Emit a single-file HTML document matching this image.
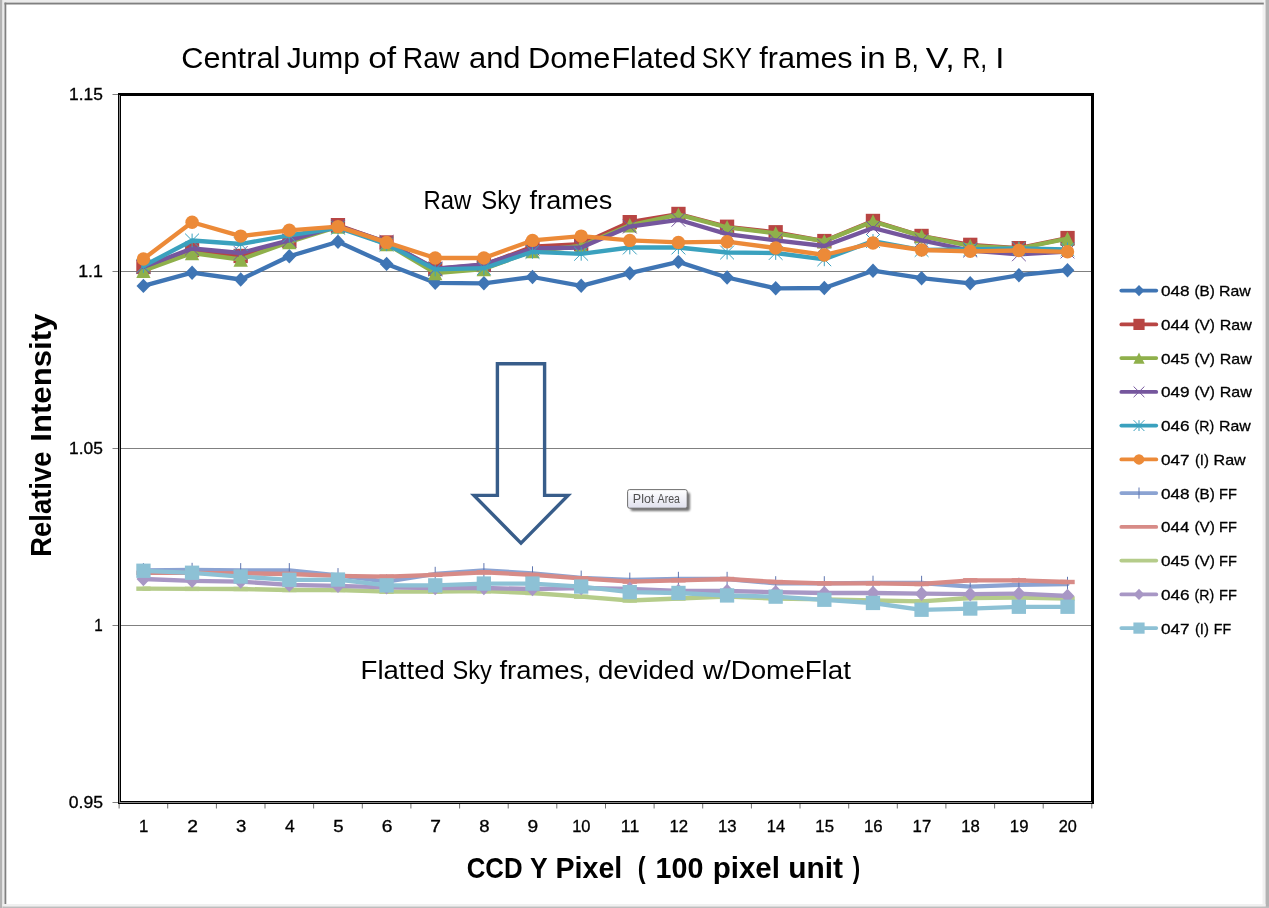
<!DOCTYPE html>
<html><head><meta charset="utf-8"><title>Central Jump of Raw and DomeFlated SKY frames</title>
<style>
html,body{margin:0;padding:0;background:#fff;}
body{width:1269px;height:908px;overflow:hidden;position:relative;font-family:"Liberation Sans",sans-serif;}
svg{position:absolute;left:0;top:0;display:block;}
text{font-family:"Liberation Sans",sans-serif;fill:#000;}
</style></head><body>
<svg width="1269" height="908" viewBox="0 0 1269 908">
<defs>
<linearGradient id="tip" x1="0" y1="0" x2="0" y2="1"><stop offset="0" stop-color="#ffffff"/><stop offset="1" stop-color="#e0e1ee"/></linearGradient>
<filter id="sh" x="-10%" y="-20%" width="130%" height="160%"><feGaussianBlur stdDeviation="1.2"/></filter>
</defs>
<rect x="0" y="0" width="1269" height="908" fill="#ffffff"/>

<rect x="0" y="0" width="1269" height="2.6" fill="#ececec"/>
<rect x="0" y="0" width="2.5" height="908" fill="#b3b3b3"/>
<rect x="2.5" y="0" width="2" height="908" fill="#ebebeb"/>
<rect x="1262.5" y="0" width="3" height="908" fill="#f1f1f1"/>
<rect x="1265.5" y="0" width="3.5" height="908" fill="#b3b3b3"/>
<rect x="2.5" y="904" width="1263" height="2.6" fill="#f0f0f0"/>
<rect x="2.5" y="906.5" width="1266.5" height="1.5" fill="#bdbdbd"/>
<rect x="4.5" y="2.6" width="1259.3" height="1.9" fill="#808080"/>
<rect x="4.5" y="2.6" width="1.8" height="901.4" fill="#808080"/>
<rect x="112.5" y="271" width="980" height="1" fill="#808080"/>
<rect x="112.5" y="448" width="980" height="1" fill="#808080"/>
<rect x="112.5" y="625" width="980" height="1" fill="#808080"/>
<rect x="112.5" y="94" width="6" height="1" fill="#808080"/>
<rect x="112.5" y="802" width="6" height="1" fill="#808080"/>
<rect x="118.6" y="803" width="1" height="5.5" fill="#707070"/>
<rect x="167.2" y="803" width="1" height="5.5" fill="#707070"/>
<rect x="215.9" y="803" width="1" height="5.5" fill="#707070"/>
<rect x="264.5" y="803" width="1" height="5.5" fill="#707070"/>
<rect x="313.1" y="803" width="1" height="5.5" fill="#707070"/>
<rect x="361.8" y="803" width="1" height="5.5" fill="#707070"/>
<rect x="410.4" y="803" width="1" height="5.5" fill="#707070"/>
<rect x="459.1" y="803" width="1" height="5.5" fill="#707070"/>
<rect x="507.7" y="803" width="1" height="5.5" fill="#707070"/>
<rect x="556.3" y="803" width="1" height="5.5" fill="#707070"/>
<rect x="605.0" y="803" width="1" height="5.5" fill="#707070"/>
<rect x="653.6" y="803" width="1" height="5.5" fill="#707070"/>
<rect x="702.2" y="803" width="1" height="5.5" fill="#707070"/>
<rect x="750.9" y="803" width="1" height="5.5" fill="#707070"/>
<rect x="799.5" y="803" width="1" height="5.5" fill="#707070"/>
<rect x="848.2" y="803" width="1" height="5.5" fill="#707070"/>
<rect x="896.8" y="803" width="1" height="5.5" fill="#707070"/>
<rect x="945.4" y="803" width="1" height="5.5" fill="#707070"/>
<rect x="994.1" y="803" width="1" height="5.5" fill="#707070"/>
<rect x="1042.7" y="803" width="1" height="5.5" fill="#707070"/>
<rect x="1091.3" y="803" width="1" height="5.5" fill="#707070"/>
<polyline points="143.4,285.9 192.1,272.7 240.7,279.5 289.3,256.3 338.0,241.7 386.6,263.9 435.2,282.8 483.9,283.3 532.5,277.0 581.2,285.8 629.8,273.2 678.4,261.9 727.1,277.5 775.7,288.3 824.3,288.0 873.0,270.7 921.6,278.2 970.2,283.3 1018.9,275.2 1067.5,270.2" fill="none" stroke="#3f75b4" stroke-width="4.3" stroke-linejoin="round" stroke-linecap="round"/>
<g><path d="M143.4 278.7L150.3 285.9L143.4 293.1L136.5 285.9Z" fill="#3f75b4"/><path d="M192.1 265.5L198.9 272.7L192.1 279.9L185.2 272.7Z" fill="#3f75b4"/><path d="M240.7 272.3L247.6 279.5L240.7 286.7L233.8 279.5Z" fill="#3f75b4"/><path d="M289.3 249.1L296.2 256.3L289.3 263.5L282.4 256.3Z" fill="#3f75b4"/><path d="M338.0 234.5L344.8 241.7L338.0 248.9L331.1 241.7Z" fill="#3f75b4"/><path d="M386.6 256.7L393.5 263.9L386.6 271.1L379.7 263.9Z" fill="#3f75b4"/><path d="M435.2 275.6L442.1 282.8L435.2 290.0L428.4 282.8Z" fill="#3f75b4"/><path d="M483.9 276.1L490.8 283.3L483.9 290.5L477.0 283.3Z" fill="#3f75b4"/><path d="M532.5 269.8L539.4 277.0L532.5 284.2L525.6 277.0Z" fill="#3f75b4"/><path d="M581.2 278.6L588.0 285.8L581.2 293.0L574.3 285.8Z" fill="#3f75b4"/><path d="M629.8 266.0L636.7 273.2L629.8 280.4L622.9 273.2Z" fill="#3f75b4"/><path d="M678.4 254.7L685.3 261.9L678.4 269.1L671.5 261.9Z" fill="#3f75b4"/><path d="M727.1 270.3L733.9 277.5L727.1 284.7L720.2 277.5Z" fill="#3f75b4"/><path d="M775.7 281.1L782.6 288.3L775.7 295.5L768.8 288.3Z" fill="#3f75b4"/><path d="M824.3 280.8L831.2 288.0L824.3 295.2L817.5 288.0Z" fill="#3f75b4"/><path d="M873.0 263.5L879.9 270.7L873.0 277.9L866.1 270.7Z" fill="#3f75b4"/><path d="M921.6 271.0L928.5 278.2L921.6 285.4L914.7 278.2Z" fill="#3f75b4"/><path d="M970.2 276.1L977.1 283.3L970.2 290.5L963.4 283.3Z" fill="#3f75b4"/><path d="M1018.9 268.0L1025.8 275.2L1018.9 282.4L1012.0 275.2Z" fill="#3f75b4"/><path d="M1067.5 263.0L1074.4 270.2L1067.5 277.4L1060.6 270.2Z" fill="#3f75b4"/></g>
<polyline points="143.4,267.0 192.1,250.0 240.7,256.0 289.3,241.0 338.0,225.2 386.6,242.5 435.2,269.0 483.9,265.0 532.5,246.7 581.2,244.2 629.8,222.2 678.4,214.0 727.1,226.8 775.7,232.3 824.3,241.1 873.0,221.0 921.6,236.0 970.2,244.9 1018.9,248.2 1067.5,238.1" fill="none" stroke="#b84543" stroke-width="4.3" stroke-linejoin="round" stroke-linecap="round"/>
<g><rect x="136.3" y="259.8" width="14.3" height="14.3" fill="#b84543"/><rect x="184.9" y="242.8" width="14.3" height="14.3" fill="#b84543"/><rect x="233.5" y="248.8" width="14.3" height="14.3" fill="#b84543"/><rect x="282.2" y="233.8" width="14.3" height="14.3" fill="#b84543"/><rect x="330.8" y="218.0" width="14.3" height="14.3" fill="#b84543"/><rect x="379.4" y="235.3" width="14.3" height="14.3" fill="#b84543"/><rect x="428.1" y="261.8" width="14.3" height="14.3" fill="#b84543"/><rect x="476.7" y="257.8" width="14.3" height="14.3" fill="#b84543"/><rect x="525.3" y="239.5" width="14.3" height="14.3" fill="#b84543"/><rect x="574.0" y="237.0" width="14.3" height="14.3" fill="#b84543"/><rect x="622.6" y="215.0" width="14.3" height="14.3" fill="#b84543"/><rect x="671.3" y="206.8" width="14.3" height="14.3" fill="#b84543"/><rect x="719.9" y="219.6" width="14.3" height="14.3" fill="#b84543"/><rect x="768.5" y="225.1" width="14.3" height="14.3" fill="#b84543"/><rect x="817.2" y="233.9" width="14.3" height="14.3" fill="#b84543"/><rect x="865.8" y="213.8" width="14.3" height="14.3" fill="#b84543"/><rect x="914.4" y="228.8" width="14.3" height="14.3" fill="#b84543"/><rect x="963.1" y="237.7" width="14.3" height="14.3" fill="#b84543"/><rect x="1011.7" y="241.0" width="14.3" height="14.3" fill="#b84543"/><rect x="1060.4" y="230.9" width="14.3" height="14.3" fill="#b84543"/></g>
<polyline points="143.4,270.7 192.1,253.0 240.7,259.5 289.3,242.0 338.0,226.6 386.6,244.0 435.2,273.0 483.9,269.0 532.5,251.0 581.2,246.0 629.8,225.3 678.4,214.7 727.1,227.3 775.7,233.4 824.3,241.2 873.0,221.5 921.6,236.1 970.2,246.0 1018.9,248.5 1067.5,238.7" fill="none" stroke="#8fb04b" stroke-width="4.3" stroke-linejoin="round" stroke-linecap="round"/>
<g><path d="M143.4 263.5L150.6 277.9L136.3 277.9Z" fill="#8fb04b"/><path d="M192.1 245.8L199.2 260.2L184.9 260.2Z" fill="#8fb04b"/><path d="M240.7 252.3L247.9 266.7L233.5 266.7Z" fill="#8fb04b"/><path d="M289.3 234.8L296.5 249.2L282.2 249.2Z" fill="#8fb04b"/><path d="M338.0 219.4L345.1 233.8L330.8 233.8Z" fill="#8fb04b"/><path d="M386.6 236.8L393.8 251.2L379.4 251.2Z" fill="#8fb04b"/><path d="M435.2 265.8L442.4 280.2L428.1 280.2Z" fill="#8fb04b"/><path d="M483.9 261.8L491.0 276.2L476.7 276.2Z" fill="#8fb04b"/><path d="M532.5 243.8L539.7 258.2L525.3 258.2Z" fill="#8fb04b"/><path d="M581.2 238.8L588.3 253.2L574.0 253.2Z" fill="#8fb04b"/><path d="M629.8 218.1L637.0 232.5L622.6 232.5Z" fill="#8fb04b"/><path d="M678.4 207.5L685.6 221.9L671.3 221.9Z" fill="#8fb04b"/><path d="M727.1 220.1L734.2 234.5L719.9 234.5Z" fill="#8fb04b"/><path d="M775.7 226.2L782.9 240.6L768.5 240.6Z" fill="#8fb04b"/><path d="M824.3 234.0L831.5 248.4L817.2 248.4Z" fill="#8fb04b"/><path d="M873.0 214.3L880.1 228.7L865.8 228.7Z" fill="#8fb04b"/><path d="M921.6 228.9L928.8 243.3L914.4 243.3Z" fill="#8fb04b"/><path d="M970.2 238.8L977.4 253.2L963.1 253.2Z" fill="#8fb04b"/><path d="M1018.9 241.3L1026.1 255.7L1011.7 255.7Z" fill="#8fb04b"/><path d="M1067.5 231.5L1074.7 245.9L1060.4 245.9Z" fill="#8fb04b"/></g>
<polyline points="143.4,267.0 192.1,248.5 240.7,253.0 289.3,240.4 338.0,226.0 386.6,242.0 435.2,268.7 483.9,264.4 532.5,248.5 581.2,247.5 629.8,226.6 678.4,219.8 727.1,234.1 775.7,240.4 824.3,246.0 873.0,228.0 921.6,240.4 970.2,250.5 1018.9,254.3 1067.5,251.5" fill="none" stroke="#75569d" stroke-width="4.3" stroke-linejoin="round" stroke-linecap="round"/>
<g><path d="M136.5 260.1L150.3 273.9M136.5 273.9L150.3 260.1" stroke="#75569d" stroke-width="1" fill="none"/><path d="M185.1 241.6L199.0 255.4M185.1 255.4L199.0 241.6" stroke="#75569d" stroke-width="1" fill="none"/><path d="M233.8 246.1L247.6 259.9M233.8 259.9L247.6 246.1" stroke="#75569d" stroke-width="1" fill="none"/><path d="M282.4 233.5L296.2 247.3M282.4 247.3L296.2 233.5" stroke="#75569d" stroke-width="1" fill="none"/><path d="M331.1 219.1L344.9 232.9M331.1 232.9L344.9 219.1" stroke="#75569d" stroke-width="1" fill="none"/><path d="M379.7 235.1L393.5 248.9M379.7 248.9L393.5 235.1" stroke="#75569d" stroke-width="1" fill="none"/><path d="M428.3 261.8L442.2 275.6M428.3 275.6L442.2 261.8" stroke="#75569d" stroke-width="1" fill="none"/><path d="M477.0 257.5L490.8 271.3M477.0 271.3L490.8 257.5" stroke="#75569d" stroke-width="1" fill="none"/><path d="M525.6 241.6L539.4 255.4M525.6 255.4L539.4 241.6" stroke="#75569d" stroke-width="1" fill="none"/><path d="M574.2 240.6L588.1 254.4M574.2 254.4L588.1 240.6" stroke="#75569d" stroke-width="1" fill="none"/><path d="M622.9 219.7L636.7 233.5M622.9 233.5L636.7 219.7" stroke="#75569d" stroke-width="1" fill="none"/><path d="M671.5 212.9L685.3 226.7M671.5 226.7L685.3 212.9" stroke="#75569d" stroke-width="1" fill="none"/><path d="M720.2 227.2L734.0 241.0M720.2 241.0L734.0 227.2" stroke="#75569d" stroke-width="1" fill="none"/><path d="M768.8 233.5L782.6 247.3M768.8 247.3L782.6 233.5" stroke="#75569d" stroke-width="1" fill="none"/><path d="M817.4 239.1L831.2 252.9M817.4 252.9L831.2 239.1" stroke="#75569d" stroke-width="1" fill="none"/><path d="M866.1 221.1L879.9 234.9M866.1 234.9L879.9 221.1" stroke="#75569d" stroke-width="1" fill="none"/><path d="M914.7 233.5L928.5 247.3M914.7 247.3L928.5 233.5" stroke="#75569d" stroke-width="1" fill="none"/><path d="M963.3 243.6L977.2 257.4M963.3 257.4L977.2 243.6" stroke="#75569d" stroke-width="1" fill="none"/><path d="M1012.0 247.4L1025.8 261.2M1012.0 261.2L1025.8 247.4" stroke="#75569d" stroke-width="1" fill="none"/><path d="M1060.6 244.6L1074.4 258.4M1060.6 258.4L1074.4 244.6" stroke="#75569d" stroke-width="1" fill="none"/></g>
<polyline points="143.4,266.0 192.1,240.5 240.7,244.0 289.3,235.4 338.0,227.8 386.6,244.2 435.2,269.4 483.9,268.2 532.5,251.8 581.2,253.8 629.8,247.5 678.4,247.5 727.1,252.5 775.7,253.0 824.3,259.3 873.0,241.0 921.6,250.0 970.2,249.3 1018.9,248.5 1067.5,249.3" fill="none" stroke="#3aa1be" stroke-width="4.3" stroke-linejoin="round" stroke-linecap="round"/>
<g><path d="M136.5 259.1L150.3 272.9M136.5 272.9L150.3 259.1M143.4 259.1L143.4 272.9" stroke="#3aa1be" stroke-width="1" fill="none"/><path d="M185.1 233.6L199.0 247.4M185.1 247.4L199.0 233.6M192.1 233.6L192.1 247.4" stroke="#3aa1be" stroke-width="1" fill="none"/><path d="M233.8 237.1L247.6 250.9M233.8 250.9L247.6 237.1M240.7 237.1L240.7 250.9" stroke="#3aa1be" stroke-width="1" fill="none"/><path d="M282.4 228.5L296.2 242.3M282.4 242.3L296.2 228.5M289.3 228.5L289.3 242.3" stroke="#3aa1be" stroke-width="1" fill="none"/><path d="M331.1 220.9L344.9 234.7M331.1 234.7L344.9 220.9M338.0 220.9L338.0 234.7" stroke="#3aa1be" stroke-width="1" fill="none"/><path d="M379.7 237.3L393.5 251.1M379.7 251.1L393.5 237.3M386.6 237.3L386.6 251.1" stroke="#3aa1be" stroke-width="1" fill="none"/><path d="M428.3 262.5L442.2 276.3M428.3 276.3L442.2 262.5M435.2 262.5L435.2 276.3" stroke="#3aa1be" stroke-width="1" fill="none"/><path d="M477.0 261.3L490.8 275.1M477.0 275.1L490.8 261.3M483.9 261.3L483.9 275.1" stroke="#3aa1be" stroke-width="1" fill="none"/><path d="M525.6 244.9L539.4 258.7M525.6 258.7L539.4 244.9M532.5 244.9L532.5 258.7" stroke="#3aa1be" stroke-width="1" fill="none"/><path d="M574.2 246.9L588.1 260.7M574.2 260.7L588.1 246.9M581.2 246.9L581.2 260.7" stroke="#3aa1be" stroke-width="1" fill="none"/><path d="M622.9 240.6L636.7 254.4M622.9 254.4L636.7 240.6M629.8 240.6L629.8 254.4" stroke="#3aa1be" stroke-width="1" fill="none"/><path d="M671.5 240.6L685.3 254.4M671.5 254.4L685.3 240.6M678.4 240.6L678.4 254.4" stroke="#3aa1be" stroke-width="1" fill="none"/><path d="M720.2 245.6L734.0 259.4M720.2 259.4L734.0 245.6M727.1 245.6L727.1 259.4" stroke="#3aa1be" stroke-width="1" fill="none"/><path d="M768.8 246.1L782.6 259.9M768.8 259.9L782.6 246.1M775.7 246.1L775.7 259.9" stroke="#3aa1be" stroke-width="1" fill="none"/><path d="M817.4 252.4L831.2 266.2M817.4 266.2L831.2 252.4M824.3 252.4L824.3 266.2" stroke="#3aa1be" stroke-width="1" fill="none"/><path d="M866.1 234.1L879.9 247.9M866.1 247.9L879.9 234.1M873.0 234.1L873.0 247.9" stroke="#3aa1be" stroke-width="1" fill="none"/><path d="M914.7 243.1L928.5 256.9M914.7 256.9L928.5 243.1M921.6 243.1L921.6 256.9" stroke="#3aa1be" stroke-width="1" fill="none"/><path d="M963.3 242.4L977.2 256.2M963.3 256.2L977.2 242.4M970.2 242.4L970.2 256.2" stroke="#3aa1be" stroke-width="1" fill="none"/><path d="M1012.0 241.6L1025.8 255.4M1012.0 255.4L1025.8 241.6M1018.9 241.6L1018.9 255.4" stroke="#3aa1be" stroke-width="1" fill="none"/><path d="M1060.6 242.4L1074.4 256.2M1060.6 256.2L1074.4 242.4M1067.5 242.4L1067.5 256.2" stroke="#3aa1be" stroke-width="1" fill="none"/></g>
<polyline points="143.4,259.0 192.1,222.3 240.7,236.1 289.3,230.3 338.0,226.6 386.6,242.4 435.2,258.0 483.9,258.0 532.5,240.4 581.2,236.1 629.8,240.4 678.4,242.4 727.1,241.7 775.7,248.0 824.3,255.0 873.0,243.0 921.6,250.0 970.2,251.3 1018.9,250.5 1067.5,251.8" fill="none" stroke="#ec8a38" stroke-width="4.3" stroke-linejoin="round" stroke-linecap="round"/>
<g><circle cx="143.4" cy="259.0" r="6.72" fill="#ec8a38"/><circle cx="192.1" cy="222.3" r="6.72" fill="#ec8a38"/><circle cx="240.7" cy="236.1" r="6.72" fill="#ec8a38"/><circle cx="289.3" cy="230.3" r="6.72" fill="#ec8a38"/><circle cx="338.0" cy="226.6" r="6.72" fill="#ec8a38"/><circle cx="386.6" cy="242.4" r="6.72" fill="#ec8a38"/><circle cx="435.2" cy="258.0" r="6.72" fill="#ec8a38"/><circle cx="483.9" cy="258.0" r="6.72" fill="#ec8a38"/><circle cx="532.5" cy="240.4" r="6.72" fill="#ec8a38"/><circle cx="581.2" cy="236.1" r="6.72" fill="#ec8a38"/><circle cx="629.8" cy="240.4" r="6.72" fill="#ec8a38"/><circle cx="678.4" cy="242.4" r="6.72" fill="#ec8a38"/><circle cx="727.1" cy="241.7" r="6.72" fill="#ec8a38"/><circle cx="775.7" cy="248.0" r="6.72" fill="#ec8a38"/><circle cx="824.3" cy="255.0" r="6.72" fill="#ec8a38"/><circle cx="873.0" cy="243.0" r="6.72" fill="#ec8a38"/><circle cx="921.6" cy="250.0" r="6.72" fill="#ec8a38"/><circle cx="970.2" cy="251.3" r="6.72" fill="#ec8a38"/><circle cx="1018.9" cy="250.5" r="6.72" fill="#ec8a38"/><circle cx="1067.5" cy="251.8" r="6.72" fill="#ec8a38"/></g>
<polyline points="143.4,570.3 192.1,570.0 240.7,570.3 289.3,570.3 338.0,575.3 386.6,581.6 435.2,574.0 483.9,570.3 532.5,573.5 581.2,577.8 629.8,579.8 678.4,579.0 727.1,579.0 775.7,583.4 824.3,583.4 873.0,582.9 921.6,583.0 970.2,586.6 1018.9,584.9 1067.5,584.0" fill="none" stroke="#8ba3d2" stroke-width="4.3" stroke-linejoin="round" stroke-linecap="round"/>
<g><path d="M143.4 563.1L143.4 577.5" stroke="#5f76b0" stroke-width="1" fill="none"/><path d="M192.1 562.8L192.1 577.2" stroke="#5f76b0" stroke-width="1" fill="none"/><path d="M240.7 563.1L240.7 577.5" stroke="#5f76b0" stroke-width="1" fill="none"/><path d="M289.3 563.1L289.3 577.5" stroke="#5f76b0" stroke-width="1" fill="none"/><path d="M338.0 568.1L338.0 582.5" stroke="#5f76b0" stroke-width="1" fill="none"/><path d="M386.6 574.4L386.6 588.8" stroke="#5f76b0" stroke-width="1" fill="none"/><path d="M435.2 566.8L435.2 581.2" stroke="#5f76b0" stroke-width="1" fill="none"/><path d="M483.9 563.1L483.9 577.5" stroke="#5f76b0" stroke-width="1" fill="none"/><path d="M532.5 566.3L532.5 580.7" stroke="#5f76b0" stroke-width="1" fill="none"/><path d="M581.2 570.6L581.2 585.0" stroke="#5f76b0" stroke-width="1" fill="none"/><path d="M629.8 572.6L629.8 587.0" stroke="#5f76b0" stroke-width="1" fill="none"/><path d="M678.4 571.8L678.4 586.2" stroke="#5f76b0" stroke-width="1" fill="none"/><path d="M727.1 571.8L727.1 586.2" stroke="#5f76b0" stroke-width="1" fill="none"/><path d="M775.7 576.2L775.7 590.6" stroke="#5f76b0" stroke-width="1" fill="none"/><path d="M824.3 576.2L824.3 590.6" stroke="#5f76b0" stroke-width="1" fill="none"/><path d="M873.0 575.7L873.0 590.1" stroke="#5f76b0" stroke-width="1" fill="none"/><path d="M921.6 575.8L921.6 590.2" stroke="#5f76b0" stroke-width="1" fill="none"/><path d="M970.2 579.4L970.2 593.8" stroke="#5f76b0" stroke-width="1" fill="none"/><path d="M1018.9 577.7L1018.9 592.1" stroke="#5f76b0" stroke-width="1" fill="none"/><path d="M1067.5 576.8L1067.5 591.2" stroke="#5f76b0" stroke-width="1" fill="none"/></g>
<polyline points="143.4,572.8 192.1,572.8 240.7,573.3 289.3,574.0 338.0,575.8 386.6,576.6 435.2,574.8 483.9,572.3 532.5,574.8 581.2,578.3 629.8,581.6 678.4,580.3 727.1,579.0 775.7,582.0 824.3,583.4 873.0,583.4 921.6,584.0 970.2,580.3 1018.9,580.3 1067.5,582.0" fill="none" stroke="#d78b87" stroke-width="4.3" stroke-linejoin="round" stroke-linecap="round"/>
<g><rect x="136.3" y="570.6" width="14.3" height="4.4" fill="#d78b87"/><rect x="184.9" y="570.6" width="14.3" height="4.4" fill="#d78b87"/><rect x="233.5" y="571.1" width="14.3" height="4.4" fill="#d78b87"/><rect x="282.2" y="571.8" width="14.3" height="4.4" fill="#d78b87"/><rect x="330.8" y="573.6" width="14.3" height="4.4" fill="#d78b87"/><rect x="379.4" y="574.4" width="14.3" height="4.4" fill="#d78b87"/><rect x="428.1" y="572.6" width="14.3" height="4.4" fill="#d78b87"/><rect x="476.7" y="570.1" width="14.3" height="4.4" fill="#d78b87"/><rect x="525.3" y="572.6" width="14.3" height="4.4" fill="#d78b87"/><rect x="574.0" y="576.1" width="14.3" height="4.4" fill="#d78b87"/><rect x="622.6" y="579.4" width="14.3" height="4.4" fill="#d78b87"/><rect x="671.3" y="578.1" width="14.3" height="4.4" fill="#d78b87"/><rect x="719.9" y="576.8" width="14.3" height="4.4" fill="#d78b87"/><rect x="768.5" y="579.8" width="14.3" height="4.4" fill="#d78b87"/><rect x="817.2" y="581.2" width="14.3" height="4.4" fill="#d78b87"/><rect x="865.8" y="581.2" width="14.3" height="4.4" fill="#d78b87"/><rect x="914.4" y="581.8" width="14.3" height="4.4" fill="#d78b87"/><rect x="963.1" y="578.1" width="14.3" height="4.4" fill="#d78b87"/><rect x="1011.7" y="578.1" width="14.3" height="4.4" fill="#d78b87"/><rect x="1060.4" y="579.8" width="14.3" height="4.4" fill="#d78b87"/></g>
<polyline points="143.4,588.7 192.1,588.9 240.7,589.0 289.3,590.0 338.0,590.0 386.6,591.7 435.2,591.7 483.9,591.2 532.5,593.0 581.2,596.7 629.8,600.5 678.4,598.5 727.1,596.7 775.7,598.5 824.3,599.3 873.0,600.5 921.6,601.3 970.2,598.0 1018.9,597.5 1067.5,598.5" fill="none" stroke="#b5cc8a" stroke-width="4.3" stroke-linejoin="round" stroke-linecap="round"/>
<g><rect x="136.3" y="586.5" width="14.3" height="4.4" fill="#b5cc8a"/><rect x="184.9" y="586.7" width="14.3" height="4.4" fill="#b5cc8a"/><rect x="233.5" y="586.8" width="14.3" height="4.4" fill="#b5cc8a"/><rect x="282.2" y="587.8" width="14.3" height="4.4" fill="#b5cc8a"/><rect x="330.8" y="587.8" width="14.3" height="4.4" fill="#b5cc8a"/><rect x="379.4" y="589.5" width="14.3" height="4.4" fill="#b5cc8a"/><rect x="428.1" y="589.5" width="14.3" height="4.4" fill="#b5cc8a"/><rect x="476.7" y="589.0" width="14.3" height="4.4" fill="#b5cc8a"/><rect x="525.3" y="590.8" width="14.3" height="4.4" fill="#b5cc8a"/><rect x="574.0" y="594.5" width="14.3" height="4.4" fill="#b5cc8a"/><rect x="622.6" y="598.3" width="14.3" height="4.4" fill="#b5cc8a"/><rect x="671.3" y="596.3" width="14.3" height="4.4" fill="#b5cc8a"/><rect x="719.9" y="594.5" width="14.3" height="4.4" fill="#b5cc8a"/><rect x="768.5" y="596.3" width="14.3" height="4.4" fill="#b5cc8a"/><rect x="817.2" y="597.1" width="14.3" height="4.4" fill="#b5cc8a"/><rect x="865.8" y="598.3" width="14.3" height="4.4" fill="#b5cc8a"/><rect x="914.4" y="599.1" width="14.3" height="4.4" fill="#b5cc8a"/><rect x="963.1" y="595.8" width="14.3" height="4.4" fill="#b5cc8a"/><rect x="1011.7" y="595.3" width="14.3" height="4.4" fill="#b5cc8a"/><rect x="1060.4" y="596.3" width="14.3" height="4.4" fill="#b5cc8a"/></g>
<polyline points="143.4,579.0 192.1,580.8 240.7,581.6 289.3,584.9 338.0,585.9 386.6,587.4 435.2,588.0 483.9,588.0 532.5,589.0 581.2,588.0 629.8,589.0 678.4,591.0 727.1,591.0 775.7,592.2 824.3,593.0 873.0,593.0 921.6,593.7 970.2,594.2 1018.9,593.7 1067.5,596.0" fill="none" stroke="#a897c5" stroke-width="4.3" stroke-linejoin="round" stroke-linecap="round"/>
<g><path d="M143.4 571.8L150.3 579.0L143.4 586.2L136.5 579.0Z" fill="#a897c5"/><path d="M192.1 573.6L198.9 580.8L192.1 588.0L185.2 580.8Z" fill="#a897c5"/><path d="M240.7 574.4L247.6 581.6L240.7 588.8L233.8 581.6Z" fill="#a897c5"/><path d="M289.3 577.7L296.2 584.9L289.3 592.1L282.4 584.9Z" fill="#a897c5"/><path d="M338.0 578.7L344.8 585.9L338.0 593.1L331.1 585.9Z" fill="#a897c5"/><path d="M386.6 580.2L393.5 587.4L386.6 594.6L379.7 587.4Z" fill="#a897c5"/><path d="M435.2 580.8L442.1 588.0L435.2 595.2L428.4 588.0Z" fill="#a897c5"/><path d="M483.9 580.8L490.8 588.0L483.9 595.2L477.0 588.0Z" fill="#a897c5"/><path d="M532.5 581.8L539.4 589.0L532.5 596.2L525.6 589.0Z" fill="#a897c5"/><path d="M581.2 580.8L588.0 588.0L581.2 595.2L574.3 588.0Z" fill="#a897c5"/><path d="M629.8 581.8L636.7 589.0L629.8 596.2L622.9 589.0Z" fill="#a897c5"/><path d="M678.4 583.8L685.3 591.0L678.4 598.2L671.5 591.0Z" fill="#a897c5"/><path d="M727.1 583.8L733.9 591.0L727.1 598.2L720.2 591.0Z" fill="#a897c5"/><path d="M775.7 585.0L782.6 592.2L775.7 599.4L768.8 592.2Z" fill="#a897c5"/><path d="M824.3 585.8L831.2 593.0L824.3 600.2L817.5 593.0Z" fill="#a897c5"/><path d="M873.0 585.8L879.9 593.0L873.0 600.2L866.1 593.0Z" fill="#a897c5"/><path d="M921.6 586.5L928.5 593.7L921.6 600.9L914.7 593.7Z" fill="#a897c5"/><path d="M970.2 587.0L977.1 594.2L970.2 601.4L963.4 594.2Z" fill="#a897c5"/><path d="M1018.9 586.5L1025.8 593.7L1018.9 600.9L1012.0 593.7Z" fill="#a897c5"/><path d="M1067.5 588.8L1074.4 596.0L1067.5 603.2L1060.6 596.0Z" fill="#a897c5"/></g>
<polyline points="143.4,570.8 192.1,572.8 240.7,576.6 289.3,579.8 338.0,579.6 386.6,585.4 435.2,585.4 483.9,583.6 532.5,583.6 581.2,586.6 629.8,592.2 678.4,593.0 727.1,595.5 775.7,596.7 824.3,599.8 873.0,603.0 921.6,609.8 970.2,608.6 1018.9,606.8 1067.5,606.8" fill="none" stroke="#8dc1d5" stroke-width="4.3" stroke-linejoin="round" stroke-linecap="round"/>
<g><rect x="136.3" y="563.6" width="14.3" height="14.3" fill="#8dc1d5"/><rect x="184.9" y="565.6" width="14.3" height="14.3" fill="#8dc1d5"/><rect x="233.5" y="569.4" width="14.3" height="14.3" fill="#8dc1d5"/><rect x="282.2" y="572.6" width="14.3" height="14.3" fill="#8dc1d5"/><rect x="330.8" y="572.4" width="14.3" height="14.3" fill="#8dc1d5"/><rect x="379.4" y="578.2" width="14.3" height="14.3" fill="#8dc1d5"/><rect x="428.1" y="578.2" width="14.3" height="14.3" fill="#8dc1d5"/><rect x="476.7" y="576.4" width="14.3" height="14.3" fill="#8dc1d5"/><rect x="525.3" y="576.4" width="14.3" height="14.3" fill="#8dc1d5"/><rect x="574.0" y="579.4" width="14.3" height="14.3" fill="#8dc1d5"/><rect x="622.6" y="585.0" width="14.3" height="14.3" fill="#8dc1d5"/><rect x="671.3" y="585.8" width="14.3" height="14.3" fill="#8dc1d5"/><rect x="719.9" y="588.3" width="14.3" height="14.3" fill="#8dc1d5"/><rect x="768.5" y="589.5" width="14.3" height="14.3" fill="#8dc1d5"/><rect x="817.2" y="592.6" width="14.3" height="14.3" fill="#8dc1d5"/><rect x="865.8" y="595.8" width="14.3" height="14.3" fill="#8dc1d5"/><rect x="914.4" y="602.6" width="14.3" height="14.3" fill="#8dc1d5"/><rect x="963.1" y="601.4" width="14.3" height="14.3" fill="#8dc1d5"/><rect x="1011.7" y="599.6" width="14.3" height="14.3" fill="#8dc1d5"/><rect x="1060.4" y="599.6" width="14.3" height="14.3" fill="#8dc1d5"/></g>
<rect x="119.5" y="94.5" width="973" height="708" fill="none" stroke="#000" stroke-width="3"/>
<rect x="119" y="95" width="1" height="708" fill="#8a8a8a"/>
<rect x="119" y="802" width="973" height="1" fill="#8a8a8a"/>
<path d="M497.4 363.7H544.6V495.4H568L521 543.2L474 495.4H497.4Z" fill="none" stroke="#385d8a" stroke-width="3.4" stroke-linejoin="miter"/>
<path d="M1121.3 290.6H1156.3" stroke="#3f75b4" stroke-width="3.7" stroke-linecap="round" fill="none"/>
<path d="M1139.0 285.0L1144.4 290.6L1139.0 296.2L1133.6 290.6Z" fill="#3f75b4"/>
<path d="M1121.3 324.4H1156.3" stroke="#b84543" stroke-width="3.7" stroke-linecap="round" fill="none"/>
<rect x="1133.4" y="318.8" width="11.2" height="11.2" fill="#b84543"/>
<path d="M1121.3 358.1H1156.3" stroke="#8fb04b" stroke-width="3.7" stroke-linecap="round" fill="none"/>
<path d="M1139.0 352.5L1144.6 363.7L1133.4 363.7Z" fill="#8fb04b"/>
<path d="M1121.3 391.9H1156.3" stroke="#75569d" stroke-width="3.7" stroke-linecap="round" fill="none"/>
<path d="M1133.6 386.5L1144.4 397.2M1133.6 397.2L1144.4 386.5" stroke="#75569d" stroke-width="1" fill="none"/>
<path d="M1121.3 425.6H1156.3" stroke="#3aa1be" stroke-width="3.7" stroke-linecap="round" fill="none"/>
<path d="M1133.6 420.2L1144.4 431.0M1133.6 431.0L1144.4 420.2M1139.0 420.2L1139.0 431.0" stroke="#3aa1be" stroke-width="1" fill="none"/>
<path d="M1121.3 459.4H1156.3" stroke="#ec8a38" stroke-width="3.7" stroke-linecap="round" fill="none"/>
<circle cx="1139.0" cy="459.4" r="5.25" fill="#ec8a38"/>
<path d="M1121.3 493.1H1156.3" stroke="#8ba3d2" stroke-width="3.7" stroke-linecap="round" fill="none"/>
<path d="M1139.0 487.5L1139.0 498.7" stroke="#5f76b0" stroke-width="1" fill="none"/>
<path d="M1121.3 526.9H1156.3" stroke="#d78b87" stroke-width="3.7" stroke-linecap="round" fill="none"/>
<path d="M1121.3 560.6H1156.3" stroke="#b5cc8a" stroke-width="3.7" stroke-linecap="round" fill="none"/>
<path d="M1121.3 594.4H1156.3" stroke="#a897c5" stroke-width="3.7" stroke-linecap="round" fill="none"/>
<path d="M1139.0 588.8L1144.4 594.4L1139.0 600.0L1133.6 594.4Z" fill="#a897c5"/>
<path d="M1121.3 628.1H1156.3" stroke="#8dc1d5" stroke-width="3.7" stroke-linecap="round" fill="none"/>
<rect x="1133.4" y="622.5" width="11.2" height="11.2" fill="#8dc1d5"/>
<rect x="630.5" y="492.5" width="59.5" height="18.5" rx="2" fill="#000" opacity="0.55" filter="url(#sh)"/>
<rect x="627.6" y="489.6" width="59.6" height="18.6" rx="2" fill="url(#tip)" stroke="#6f6f6f" stroke-width="1"/>
<text font-size="30.09px" y="67.6"><tspan x="181.26" textLength="99.07" lengthAdjust="spacingAndGlyphs">Central</tspan> <tspan x="286.63" textLength="73.18" lengthAdjust="spacingAndGlyphs">Jump</tspan> <tspan x="368.15" textLength="28.04" lengthAdjust="spacingAndGlyphs">of</tspan> <tspan x="402.79" textLength="56.56" lengthAdjust="spacingAndGlyphs">Raw</tspan> <tspan x="469.04" textLength="51.50" lengthAdjust="spacingAndGlyphs">and</tspan> <tspan x="528.09" textLength="82.26" lengthAdjust="spacingAndGlyphs">Dome</tspan><tspan x="611.52" textLength="84.59" lengthAdjust="spacingAndGlyphs">Flated</tspan> <tspan x="701.83" textLength="49.54" lengthAdjust="spacingAndGlyphs">SKY</tspan> <tspan x="759.30" textLength="93.35" lengthAdjust="spacingAndGlyphs">frames</tspan> <tspan x="859.83" textLength="25.84" lengthAdjust="spacingAndGlyphs">in</tspan> <tspan x="893.93" textLength="25.05" lengthAdjust="spacingAndGlyphs">B,</tspan> <tspan x="925.80" textLength="29.04" lengthAdjust="spacingAndGlyphs">V,</tspan> <tspan x="962.46" textLength="24.79" lengthAdjust="spacingAndGlyphs">R,</tspan> <tspan x="995.33" textLength="9.14" lengthAdjust="spacingAndGlyphs">I</tspan></text>
<text font-size="26.16px" y="208.8"><tspan x="423.43" textLength="47.77" lengthAdjust="spacingAndGlyphs">Raw</tspan> <tspan x="481.25" textLength="39.75" lengthAdjust="spacingAndGlyphs">Sky</tspan> <tspan x="529.60" textLength="82.75" lengthAdjust="spacingAndGlyphs">frames</tspan></text>
<text font-size="26.16px" y="678.5"><tspan x="360.55" textLength="84.30" lengthAdjust="spacingAndGlyphs">Flatted</tspan> <tspan x="452.46" textLength="39.34" lengthAdjust="spacingAndGlyphs">Sky</tspan> <tspan x="499.50" textLength="91.45" lengthAdjust="spacingAndGlyphs">frames,</tspan> <tspan x="597.94" textLength="96.61" lengthAdjust="spacingAndGlyphs">devided</tspan> <tspan x="702.93" textLength="147.97" lengthAdjust="spacingAndGlyphs">w/DomeFlat</tspan></text>
<text font-size="29.07px" font-weight="bold" y="877.7"><tspan x="466.69" textLength="55.90" lengthAdjust="spacingAndGlyphs">CCD</tspan> <tspan x="530.00" textLength="17.18" lengthAdjust="spacingAndGlyphs">Y</tspan> <tspan x="555.51" textLength="66.78" lengthAdjust="spacingAndGlyphs">Pixel</tspan> <tspan x="637.69" textLength="7.85" lengthAdjust="spacingAndGlyphs">(</tspan> <tspan x="655.51" textLength="47.86" lengthAdjust="spacingAndGlyphs">100</tspan> <tspan x="712.65" textLength="67.40" lengthAdjust="spacingAndGlyphs">pixel</tspan> <tspan x="788.20" textLength="54.75" lengthAdjust="spacingAndGlyphs">unit</tspan> <tspan x="852.80" textLength="7.40" lengthAdjust="spacingAndGlyphs">)</tspan></text>
<text font-size="29.51px" font-weight="bold" transform="translate(50.8 0) rotate(-90)" y="0"><tspan x="-556.82" textLength="105.30" lengthAdjust="spacingAndGlyphs">Relative</tspan> <tspan x="-441.75" textLength="128.15" lengthAdjust="spacingAndGlyphs">Intensity</tspan></text>
<text font-size="15.65px" stroke="#000" stroke-width="0.3" y="100.0"><tspan x="69.11" textLength="33.79" lengthAdjust="spacingAndGlyphs">1.15</tspan></text>
<text font-size="15.65px" stroke="#000" stroke-width="0.3" y="276.9"><tspan x="78.19" textLength="24.73" lengthAdjust="spacingAndGlyphs">1.1</tspan></text>
<text font-size="15.65px" stroke="#000" stroke-width="0.3" y="453.9"><tspan x="69.11" textLength="33.79" lengthAdjust="spacingAndGlyphs">1.05</tspan></text>
<text font-size="15.65px" stroke="#000" stroke-width="0.3" y="631.2"><tspan x="94.35" textLength="8.47" lengthAdjust="spacingAndGlyphs">1</tspan></text>
<text font-size="15.65px" stroke="#000" stroke-width="0.3" y="807.8"><tspan x="68.75" textLength="34.16" lengthAdjust="spacingAndGlyphs">0.95</tspan></text>
<text font-size="15.65px" stroke="#000" stroke-width="0.3" y="831.6"><tspan x="138.97" textLength="9.33" lengthAdjust="spacingAndGlyphs">1</tspan></text>
<text font-size="15.65px" stroke="#000" stroke-width="0.3" y="831.6"><tspan x="187.16" textLength="10.68" lengthAdjust="spacingAndGlyphs">2</tspan></text>
<text font-size="15.65px" stroke="#000" stroke-width="0.3" y="831.6"><tspan x="236.11" textLength="10.33" lengthAdjust="spacingAndGlyphs">3</tspan></text>
<text font-size="15.65px" stroke="#000" stroke-width="0.3" y="831.6"><tspan x="285.06" textLength="9.71" lengthAdjust="spacingAndGlyphs">4</tspan></text>
<text font-size="15.65px" stroke="#000" stroke-width="0.3" y="831.6"><tspan x="333.39" textLength="10.33" lengthAdjust="spacingAndGlyphs">5</tspan></text>
<text font-size="15.65px" stroke="#000" stroke-width="0.3" y="831.6"><tspan x="381.70" textLength="10.68" lengthAdjust="spacingAndGlyphs">6</tspan></text>
<text font-size="15.65px" stroke="#000" stroke-width="0.3" y="831.6"><tspan x="430.34" textLength="10.68" lengthAdjust="spacingAndGlyphs">7</tspan></text>
<text font-size="15.65px" stroke="#000" stroke-width="0.3" y="831.6"><tspan x="479.30" textLength="10.33" lengthAdjust="spacingAndGlyphs">8</tspan></text>
<text font-size="15.65px" stroke="#000" stroke-width="0.3" y="831.6"><tspan x="527.61" textLength="10.68" lengthAdjust="spacingAndGlyphs">9</tspan></text>
<text font-size="15.65px" stroke="#000" stroke-width="0.3" y="831.6"><tspan x="572.17" textLength="18.34" lengthAdjust="spacingAndGlyphs">10</tspan></text>
<text font-size="15.65px" stroke="#000" stroke-width="0.3" y="831.6"><tspan x="620.88" textLength="18.43" lengthAdjust="spacingAndGlyphs">11</tspan></text>
<text font-size="15.65px" stroke="#000" stroke-width="0.3" y="831.6"><tspan x="669.43" textLength="18.63" lengthAdjust="spacingAndGlyphs">12</tspan></text>
<text font-size="15.65px" stroke="#000" stroke-width="0.3" y="831.6"><tspan x="718.07" textLength="18.63" lengthAdjust="spacingAndGlyphs">13</tspan></text>
<text font-size="15.65px" stroke="#000" stroke-width="0.3" y="831.6"><tspan x="766.72" textLength="18.34" lengthAdjust="spacingAndGlyphs">14</tspan></text>
<text font-size="15.65px" stroke="#000" stroke-width="0.3" y="831.6"><tspan x="815.34" textLength="18.63" lengthAdjust="spacingAndGlyphs">15</tspan></text>
<text font-size="15.65px" stroke="#000" stroke-width="0.3" y="831.6"><tspan x="863.98" textLength="18.63" lengthAdjust="spacingAndGlyphs">16</tspan></text>
<text font-size="15.65px" stroke="#000" stroke-width="0.3" y="831.6"><tspan x="912.61" textLength="18.63" lengthAdjust="spacingAndGlyphs">17</tspan></text>
<text font-size="15.65px" stroke="#000" stroke-width="0.3" y="831.6"><tspan x="961.25" textLength="18.63" lengthAdjust="spacingAndGlyphs">18</tspan></text>
<text font-size="15.65px" stroke="#000" stroke-width="0.3" y="831.6"><tspan x="1009.89" textLength="18.63" lengthAdjust="spacingAndGlyphs">19</tspan></text>
<text font-size="15.65px" stroke="#000" stroke-width="0.3" y="831.6"><tspan x="1058.81" textLength="18.07" lengthAdjust="spacingAndGlyphs">20</tspan></text>
<text font-size="15.12px" stroke="#000" stroke-width="0.3" y="296.0"><tspan x="1161.06" textLength="28.63" lengthAdjust="spacingAndGlyphs">048</tspan> <tspan x="1194.49" textLength="20.30" lengthAdjust="spacingAndGlyphs">(B)</tspan> <tspan x="1219.06" textLength="31.75" lengthAdjust="spacingAndGlyphs">Raw</tspan></text>
<text font-size="15.12px" stroke="#000" stroke-width="0.3" y="329.8"><tspan x="1161.07" textLength="28.35" lengthAdjust="spacingAndGlyphs">044</tspan> <tspan x="1194.48" textLength="20.52" lengthAdjust="spacingAndGlyphs">(V)</tspan> <tspan x="1219.75" textLength="32.06" lengthAdjust="spacingAndGlyphs">Raw</tspan></text>
<text font-size="15.12px" stroke="#000" stroke-width="0.3" y="363.5"><tspan x="1161.06" textLength="28.63" lengthAdjust="spacingAndGlyphs">045</tspan> <tspan x="1194.48" textLength="20.52" lengthAdjust="spacingAndGlyphs">(V)</tspan> <tspan x="1219.75" textLength="32.06" lengthAdjust="spacingAndGlyphs">Raw</tspan></text>
<text font-size="15.12px" stroke="#000" stroke-width="0.3" y="397.2"><tspan x="1161.06" textLength="28.63" lengthAdjust="spacingAndGlyphs">049</tspan> <tspan x="1194.48" textLength="20.52" lengthAdjust="spacingAndGlyphs">(V)</tspan> <tspan x="1219.75" textLength="32.06" lengthAdjust="spacingAndGlyphs">Raw</tspan></text>
<text font-size="15.12px" stroke="#000" stroke-width="0.3" y="431.0"><tspan x="1161.06" textLength="28.63" lengthAdjust="spacingAndGlyphs">046</tspan> <tspan x="1194.54" textLength="19.59" lengthAdjust="spacingAndGlyphs">(R)</tspan> <tspan x="1219.06" textLength="31.75" lengthAdjust="spacingAndGlyphs">Raw</tspan></text>
<text font-size="15.12px" stroke="#000" stroke-width="0.3" y="464.8"><tspan x="1161.06" textLength="28.63" lengthAdjust="spacingAndGlyphs">047</tspan> <tspan x="1194.90" textLength="14.07" lengthAdjust="spacingAndGlyphs">(I)</tspan> <tspan x="1213.54" textLength="32.16" lengthAdjust="spacingAndGlyphs">Raw</tspan></text>
<text font-size="15.12px" stroke="#000" stroke-width="0.3" y="498.5"><tspan x="1161.06" textLength="28.63" lengthAdjust="spacingAndGlyphs">048</tspan> <tspan x="1194.49" textLength="20.30" lengthAdjust="spacingAndGlyphs">(B)</tspan> <tspan x="1219.06" textLength="17.82" lengthAdjust="spacingAndGlyphs">FF</tspan></text>
<text font-size="15.12px" stroke="#000" stroke-width="0.3" y="532.2"><tspan x="1161.07" textLength="28.35" lengthAdjust="spacingAndGlyphs">044</tspan> <tspan x="1194.48" textLength="20.52" lengthAdjust="spacingAndGlyphs">(V)</tspan> <tspan x="1219.06" textLength="17.82" lengthAdjust="spacingAndGlyphs">FF</tspan></text>
<text font-size="15.12px" stroke="#000" stroke-width="0.3" y="566.0"><tspan x="1161.06" textLength="28.63" lengthAdjust="spacingAndGlyphs">045</tspan> <tspan x="1194.48" textLength="20.52" lengthAdjust="spacingAndGlyphs">(V)</tspan> <tspan x="1219.06" textLength="17.82" lengthAdjust="spacingAndGlyphs">FF</tspan></text>
<text font-size="15.12px" stroke="#000" stroke-width="0.3" y="599.8"><tspan x="1161.06" textLength="28.63" lengthAdjust="spacingAndGlyphs">046</tspan> <tspan x="1194.54" textLength="19.59" lengthAdjust="spacingAndGlyphs">(R)</tspan> <tspan x="1219.06" textLength="17.82" lengthAdjust="spacingAndGlyphs">FF</tspan></text>
<text font-size="15.12px" stroke="#000" stroke-width="0.3" y="633.5"><tspan x="1161.06" textLength="28.63" lengthAdjust="spacingAndGlyphs">047</tspan> <tspan x="1194.90" textLength="14.07" lengthAdjust="spacingAndGlyphs">(I)</tspan> <tspan x="1213.80" textLength="17.27" lengthAdjust="spacingAndGlyphs">FF</tspan></text>
<text font-size="13.37px" style="fill:#505050" y="503.0"><tspan x="632.82" textLength="21.53" lengthAdjust="spacingAndGlyphs">Plot</tspan> <tspan x="657.60" textLength="22.43" lengthAdjust="spacingAndGlyphs">Area</tspan></text>
</svg>
</body></html>
